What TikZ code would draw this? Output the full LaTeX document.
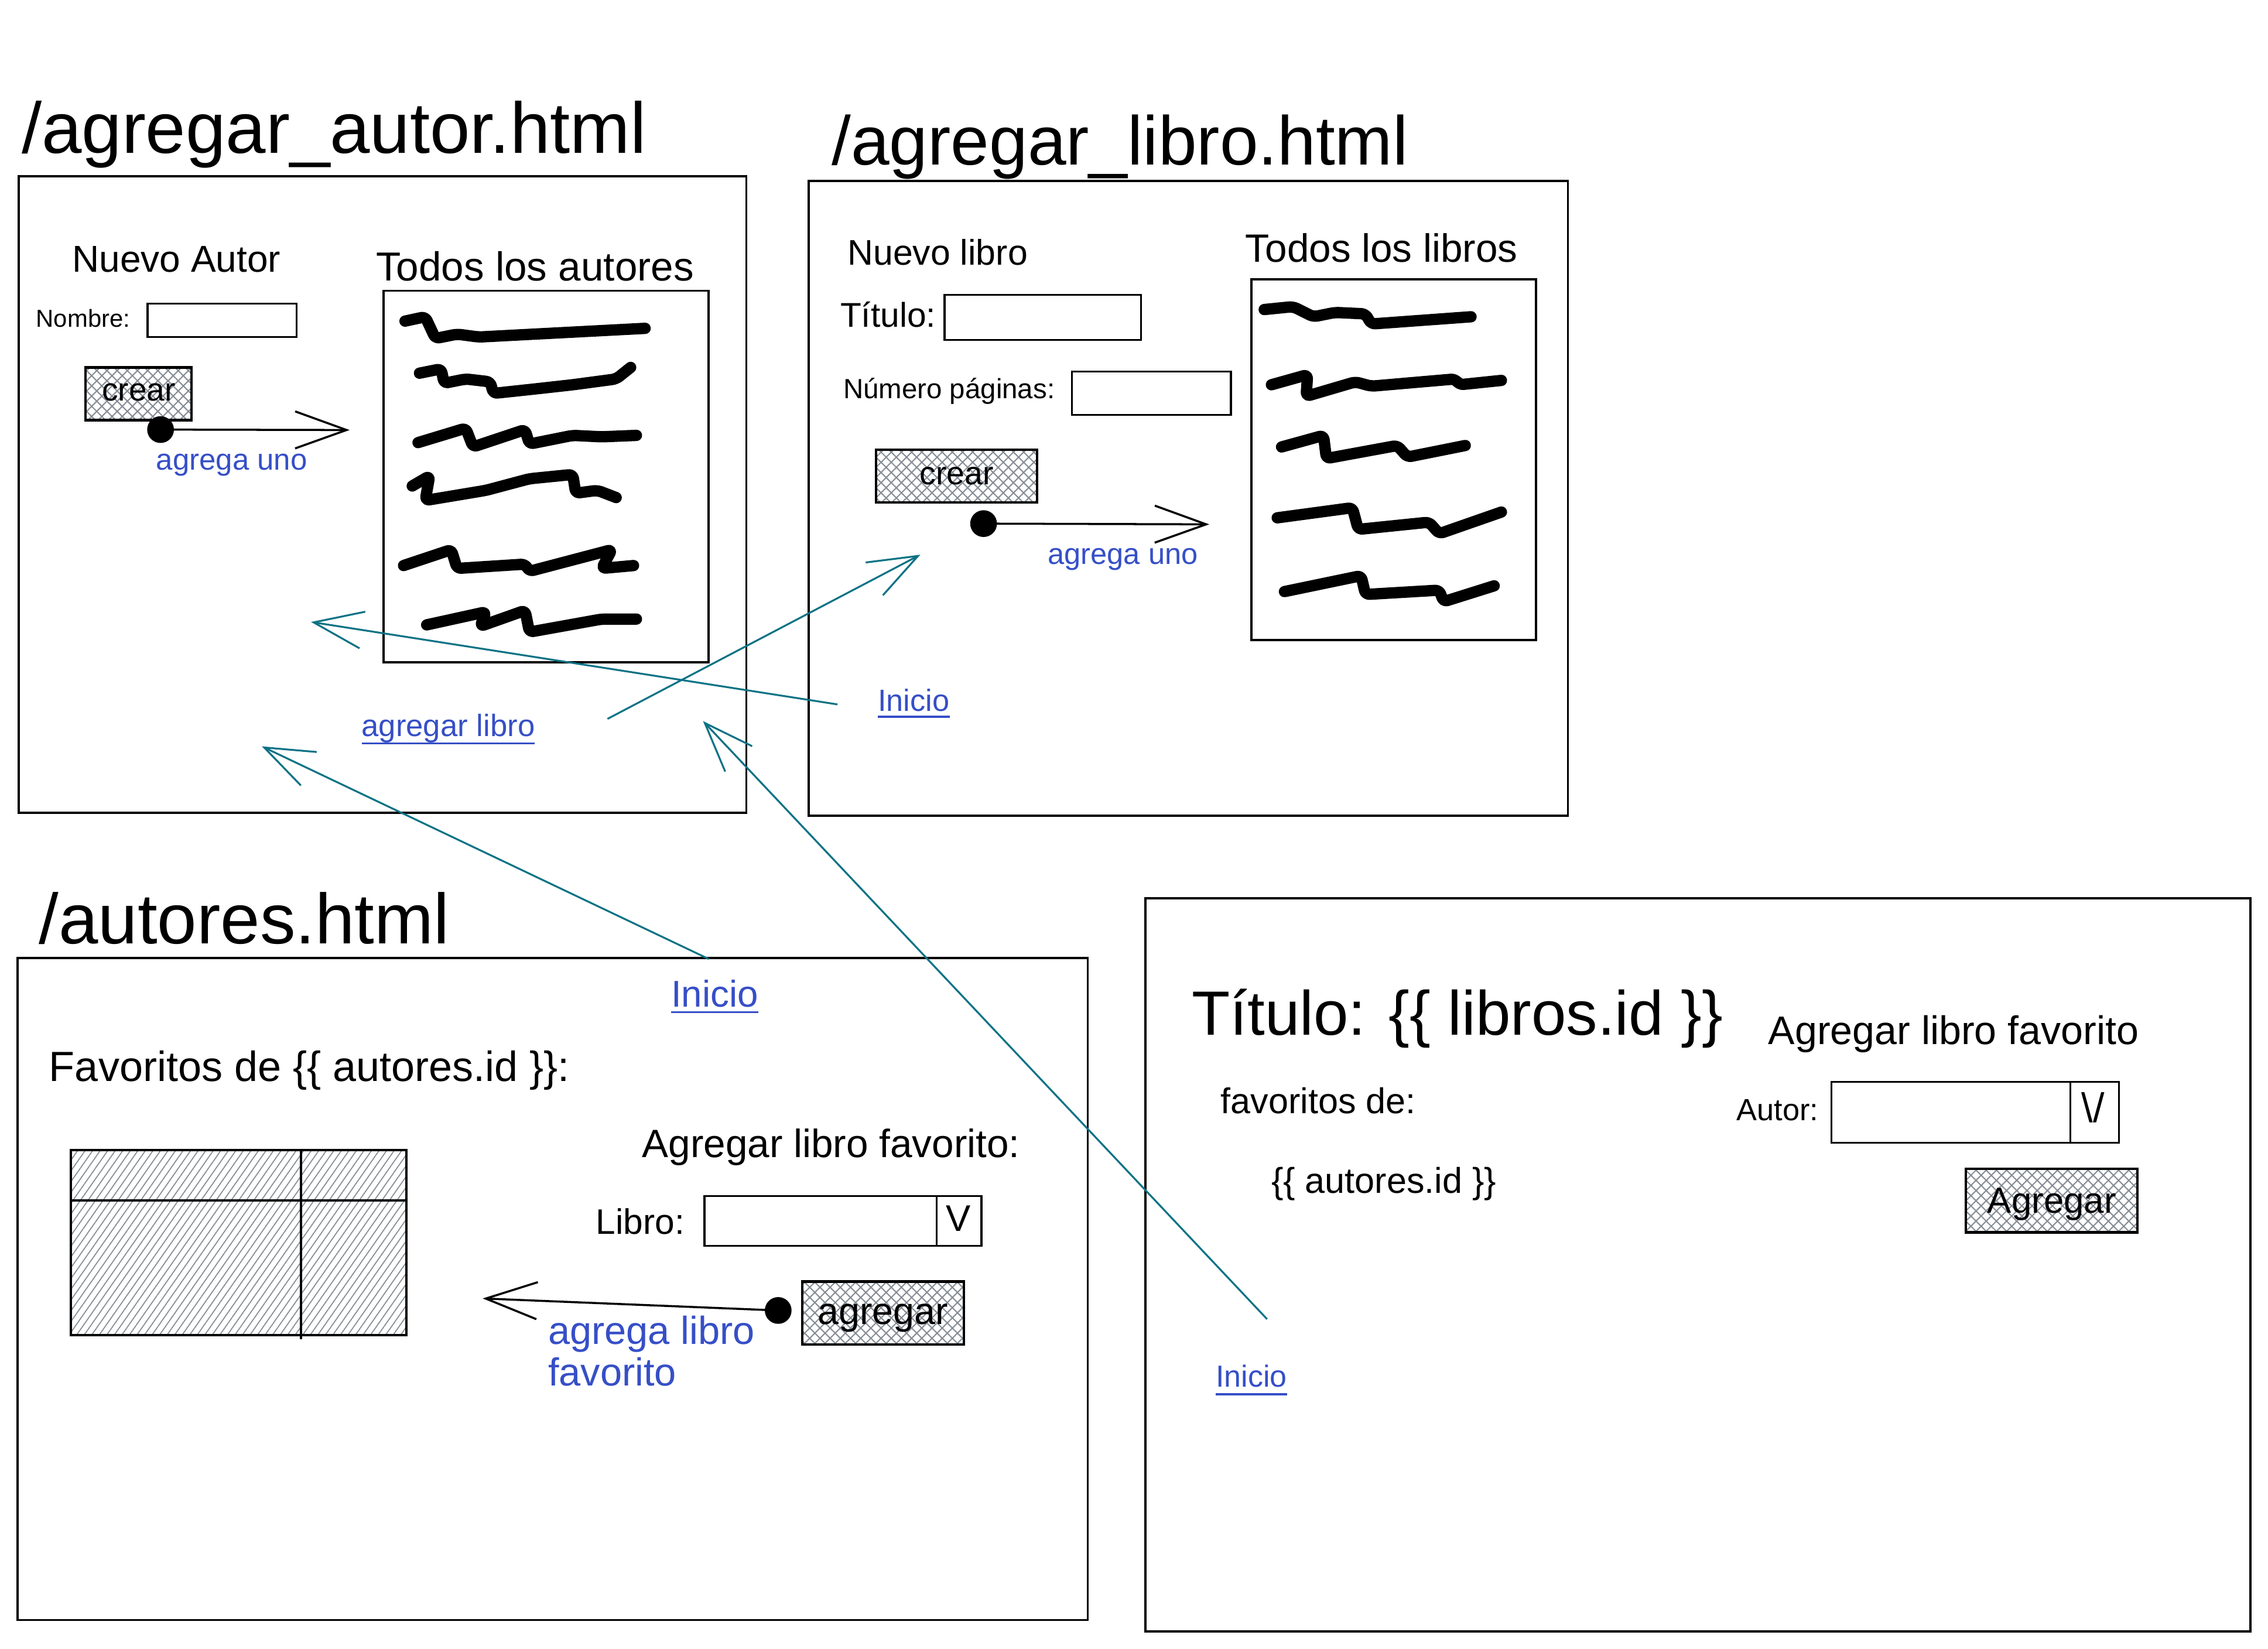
\documentclass[tikz,border=0pt]{standalone}
\usepackage{fontspec}
\setmainfont{Liberation Sans}
\usetikzlibrary{arrows.meta,patterns.meta}
\definecolor{linkblue}{HTML}{364FC7}
\definecolor{tealc}{HTML}{0B7285}
\definecolor{hatchgray}{HTML}{868E96}
\newcommand\fsz[1]{\fontsize{#1pt}{#1pt}\selectfont}
\begin{document}
\begin{tikzpicture}[x=0.0247cm,y=-0.0247cm,
  frame/.style={draw=black,line width=1.1pt},
  field/.style={draw=black,line width=0.9pt},
  btn/.style={draw=black,line width=1.2pt,pattern={Hatch[angle=45,distance=3.5pt,line width=0.6pt]},pattern color=hatchgray},
  grid/.style={draw=black,line width=1.2pt,pattern={Lines[angle=55,distance=3pt,line width=0.5pt]},pattern color=hatchgray},
  txt/.style={anchor=base west,inner sep=0pt,outer sep=0pt},
  ctxt/.style={anchor=base,inner sep=0pt,outer sep=0pt},
  link/.style={txt,text=linkblue},
  uline/.style={draw=linkblue,line width=1pt},
  scrib/.style={line width=5.5pt,line cap=round,line join=round,rounded corners=2pt},
  flow/.style={draw=black,line width=1pt,-{Straight Barb[length=25pt,width=18pt,line width=1pt]}},
  jump/.style={draw=tealc,line width=0.9pt,-{Straight Barb[length=24pt,width=18pt,line width=0.9pt]}},
  dotn/.style={circle,fill=black,inner sep=0pt,minimum size=13pt}]
\fill[white] (0,0) rectangle (1568,1140);
\useasboundingbox (0,0) rectangle (1568,1140);

% ---------------- Frame A: /agregar_autor.html
\node[txt,font=\fsz{35}] (titleA) at (15,106) {/agregar\_autor.html};
\draw[frame] (13,122) rectangle (516,562);
\node[txt,font=\fsz{18.2}] (nuevoAutor) at (50,188) {Nuevo Autor};
\node[txt,font=\fsz{19.7}] (todosAutores) at (260,194) {Todos los autores};
\node[txt,font=\fsz{11.9}] (nombre) at (25,226) {Nombre:};
\draw[field] (102,210) rectangle (205,233);
\draw[btn] (59,254) rectangle (132.5,290.5);
\node[ctxt,font=\fsz{15.7}] (crearA) at (96,277) {crear};
\node[dotn] (dotA) at (111,297) {};
\coordinate (tipA) at (241.7,297.3);
\draw[flow] (dotA.center) -- (tipA);
\node[link,font=\fsz{14.5}] (agregaUnoA) at (108,325) {agrega uno};
\draw[frame] (265,201) rectangle (490,458);
\draw[scrib] (280,222)--(294,219)--(301,234)--(316,231)--(331,233)--(446,227);
\draw[scrib] (290,258)--(305,255)--(307,265)--(322,262)--(339,264)--(341,272)--(369,269)--(396,266)--(426,262)--(436,254);
\draw[scrib] (289,306)--(322,296)--(327,309)--(363,297)--(366,307)--(396,301)--(416,302)--(440,301);
\draw[scrib] (285,336)--(297,329)--(294,346)--(336,339)--(366,331)--(396,328)--(398,341)--(413,339)--(426,344);
\draw[scrib] (279,391)--(312,380)--(316,393)--(363,390)--(366,395)--(423,380)--(416,393)--(438,391);
\draw[scrib] (295,432)--(336,423)--(332,433)--(363,422)--(366,437)--(416,428)--(440,428);
\node[link,font=\fsz{15}] (agregarLibro) at (250,509) {agregar libro};
\draw[uline] ([yshift=-3.5pt]agregarLibro.base west) -- ([yshift=-3.5pt]agregarLibro.base east);

% ---------------- Frame B: /agregar_libro.html
\node[txt,font=\fsz{33.6}] (titleB) at (575,114) {/agregar\_libro.html};
\draw[frame] (559,125) rectangle (1084,564);
\node[txt,font=\fsz{17.3}] (nuevoLibro) at (586,183) {Nuevo libro};
\node[txt,font=\fsz{19.2}] (todosLibros) at (861,181) {Todos los libros};
\node[txt,font=\fsz{16.7}] (titulo) at (581,226) {Título:};
\draw[field] (653,204) rectangle (789,235);
\node[txt,font=\fsz{13.5}] (numPag) at (583,275.4) {Número páginas:};
\draw[field] (741,257) rectangle (851,287);
\draw[btn] (605.5,311) rectangle (717,347.5);
\node[ctxt,font=\fsz{15.8}] (crearB) at (661.4,335) {crear};
\node[dotn] (dotB) at (680,362) {};
\coordinate (tipB) at (836,362.5);
\draw[flow] (dotB.center) -- (tipB);
\node[link,font=\fsz{14.4}] (agregaUnoB) at (724.5,390) {agrega uno};
\draw[frame] (865,193) rectangle (1062,442.5);
\draw[scrib] (874,214)--(894,212)--(908,219)--(923,216)--(944,217)--(948,224)--(1017,219);
\draw[scrib] (879,266)--(904,259)--(903,274)--(937,264)--(948,267)--(1006,262)--(1009,266)--(1038,263);
\draw[scrib] (886,309)--(915,301)--(917,317)--(966,308)--(973,316)--(1013,308);
\draw[scrib] (883,358)--(935,351)--(939,366)--(988,361)--(995,369)--(1038,354);
\draw[scrib] (888,409)--(941,398)--(944,411)--(995,408)--(998,416)--(1033,405);
\node[link,font=\fsz{14.9}] (inicioB) at (607,491.6) {Inicio};
\draw[uline] ([yshift=-2.8pt]inicioB.base west) -- ([yshift=-2.8pt]inicioB.base east);

% ---------------- Frame C: /autores.html
\node[txt,font=\fsz{34.5}] (titleC) at (27,652.6) {/autores.html};
\draw[frame] (12,662.5) rectangle (752,1120);
\node[link,font=\fsz{18.1}] (inicioC) at (464,696) {Inicio};
\draw[uline] ([yshift=-2.6pt]inicioC.base west) -- ([yshift=-2.6pt]inicioC.base east);
\node[txt,font=\fsz{20.5}] (favoritosDe) at (34,747.6) {Favoritos de \{\{ autores.id \}\}:};
\draw[grid] (49,795) rectangle (281,923);
\draw[line width=1.2pt] (49,830) -- (281,830);
\draw[line width=1.2pt] (208,795) -- (208,926);
\node[txt,font=\fsz{19.2}] (agregarFavC) at (444,800) {Agregar libro favorito:};
\node[txt,font=\fsz{17.2}] (libroLbl) at (412,853.4) {Libro:};
\draw[field] (487,827) rectangle (678.5,861.4);
\draw[field] (647.7,827) -- (647.7,861.4);
\node[ctxt,font=\fsz{18}] (selC) at (662.4,851) {V};
\draw[btn] (554.5,886) rectangle (666.3,929.5);
\node[ctxt,font=\fsz{18.4}] (agregarBtn) at (610.4,915.5) {agregar};
\node[dotn] (dotC) at (538,906) {};
\coordinate (tipC) at (333.7,897.7);
\draw[flow] (dotC.center) -- (tipC);
\node[link,font=\fsz{19}] (agregaLibro) at (379,929.5) {agrega libro};
\node[link,font=\fsz{19}] (favorito) at (379,958) {favorito};

% ---------------- Frame D: libro detail
\draw[frame] (792,621) rectangle (1556,1128);
\node[txt,font=\fsz{30.4}] (tituloLibros) at (824,715.4) {Título: \{\{ libros.id \}\}};
\node[txt,font=\fsz{19.4}] (agregarFavD) at (1222.5,722.2) {Agregar libro favorito};
\node[txt,font=\fsz{17.4}] (favoritosDeD) at (844,769.8) {favoritos de:};
\node[txt,font=\fsz{14.9}] (autorLbl) at (1200.6,774.6) {Autor:};
\draw[field] (1266,748) rectangle (1465,790);
\draw[field] (1431.5,748) -- (1431.5,790);
\node[ctxt,font=\fsz{20}] (selD) at (1447,776) {\textbackslash/};
\node[txt,font=\fsz{17.4}] (autoresId) at (879,825) {\{\{ autores.id \}\}};
\draw[btn] (1359,808) rectangle (1477.7,852);
\node[ctxt,font=\fsz{17.6}] (agregarBtnD) at (1418.5,838.5) {Agregar};
\node[link,font=\fsz{14.8}] (inicioD) at (840.6,959) {Inicio};
\draw[uline] ([yshift=-3.5pt]inicioD.base west) -- ([yshift=-3.5pt]inicioD.base east);

% ---------------- navigation arrows (teal)
\coordinate (j1s) at (579,487);
\coordinate (j1e) at (215,430);
\coordinate (j2s) at (420,497);
\coordinate (j2e) at (636.3,383.5);
\coordinate (j3s) at (490,663);
\coordinate (j3e) at (181,516);
\coordinate (j4s) at (876,912);
\coordinate (j4e) at (486,498.5);
\draw[jump] (j1s) -- (j1e);
\draw[jump] (j2s) -- (j2e);
\draw[jump] (j3s) -- (j3e);
\draw[jump] (j4s) -- (j4e);
\end{tikzpicture}
\end{document}
